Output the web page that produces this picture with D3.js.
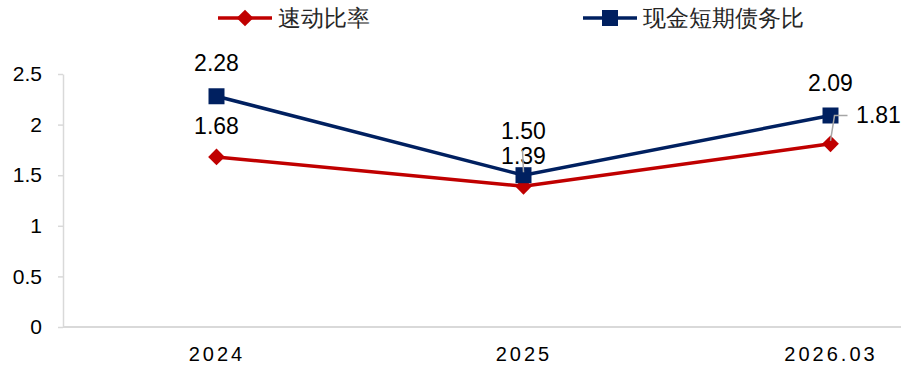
<!DOCTYPE html>
<html>
<head>
<meta charset="utf-8">
<script src="https://d3js.org/d3.v7.min.js"></script>
<style>
  body { margin: 0; background: #fff; }
  text { font-family: "Liberation Sans", Arial, sans-serif; }
</style>
</head>
<body>
<svg id="vis"></svg>
<script>
    let width = 901,
        height = 370;

    // chart data
    let categories = ["2024", "2025", "2026.03"];
    let quickRatio = [1.68, 1.39, 1.81];
    let cashDebtRatio = [2.28, 1.50, 2.09];
    let seriesNames = ["速动比率", "现金短期债务比"];
    let yTicks = [0, 0.5, 1, 1.5, 2, 2.5];

    let svg = d3.select("#vis").attr("width", width).attr("height", height);
    svg.append("rect").attr("width", width).attr("height", height).attr("fill", "white");

    let x = d3.scalePoint().domain(categories).range([63, 984]).padding(0.5);
    let y = d3.scaleLinear().domain([0, 2.5]).range([327, 74]);

    // y axis
    let yAxis = svg.append("g")
        .attr("transform", "translate(63,0)")
        .call(d3.axisLeft(y).tickValues(yTicks).tickSize(5).tickSizeOuter(0).tickFormat(d => d));
    yAxis.select(".domain").attr("stroke", "#d9d9d9").attr("stroke-width", 1.5);
    yAxis.selectAll(".tick line").attr("stroke", "#d9d9d9").attr("stroke-width", 1.5);
    yAxis.selectAll(".tick text")
        .attr("x", -21)
        .attr("fill", "#000")
        .style("font-size", "21px");

    // x axis
    let xAxis = svg.append("g")
        .attr("transform", "translate(0,327)")
        .call(d3.axisBottom(x).tickSize(0).tickSizeOuter(0));
    xAxis.select(".domain").attr("d", "M63,0H901").attr("stroke", "#d9d9d9").attr("stroke-width", 2);
    xAxis.selectAll(".tick text")
        .attr("y", 20)
        .attr("fill", "#000")
        .style("font-size", "20px")
        .style("letter-spacing", "3px");

    let line = d3.line().x((d, i) => x(categories[i])).y(d => y(d));

    let series = [
        { name: seriesNames[0], values: quickRatio, color: "#c00000", size: 140, rotate: 45 },
        { name: seriesNames[1], values: cashDebtRatio, color: "#002060", size: 256, rotate: 0 }
    ];

    series.forEach(s => {
        svg.append("path")
            .attr("d", line(s.values))
            .attr("fill", "none")
            .attr("stroke", s.color)
            .attr("stroke-width", 3.5);
    });

    series.forEach(s => {
        svg.selectAll(null)
            .data(s.values)
            .join("path")
            .attr("d", d3.symbol().type(d3.symbolSquare).size(s.size))
            .attr("transform", (d, i) => `translate(${x(categories[i])},${y(d)}) rotate(${s.rotate})`)
            .attr("fill", s.color);
    });

    // data labels
    let labelOffsets = {
        quick: [[0, -31], [0, -30], [48, -29]],
        cash: [[0, -33], [0, -44], [0, -32]]
    };
    function drawLabels(values, offsets) {
        svg.selectAll(null)
            .data(values)
            .join("text")
            .attr("x", (d, i) => x(categories[i]) + offsets[i][0])
            .attr("y", (d, i) => y(d) + offsets[i][1])
            .attr("text-anchor", "middle")
            .attr("dominant-baseline", "central")
            .attr("fill", "#000")
            .style("font-size", "23px")
            .text(d => d.toFixed(2));
    }
    drawLabels(quickRatio, labelOffsets.quick);
    drawLabels(cashDebtRatio, labelOffsets.cash);

    // leader lines
    let leaderColor = "#a6a6a6";
    svg.append("path")
        .attr("d", `M${x(categories[1])},${y(cashDebtRatio[1]) - 3}L${x(categories[1]) - 1},${y(quickRatio[1]) - 36}`)
        .attr("stroke", leaderColor).attr("stroke-width", 1.5).attr("fill", "none");
    svg.append("path")
        .attr("d", `M${x(categories[2])},${y(quickRatio[2]) - 3}L${x(categories[2]) + 4},${y(cashDebtRatio[2])}H${x(categories[2]) + 17}`)
        .attr("stroke", leaderColor).attr("stroke-width", 1.5).attr("fill", "none");

    // legend
    let legendX = [218, 583];
    series.forEach((s, i) => {
        let g = svg.append("g").attr("transform", `translate(${legendX[i]},18)`);
        g.append("line").attr("x1", 0).attr("x2", 54).attr("stroke", s.color).attr("stroke-width", 3.5);
        g.append("path")
            .attr("d", d3.symbol().type(d3.symbolSquare).size(s.size))
            .attr("transform", `translate(27,0) rotate(${s.rotate})`)
            .attr("fill", s.color);
        g.append("text")
            .attr("x", 60)
            .attr("dominant-baseline", "central")
            .attr("fill", "#262626")
            .style("font-size", "23px")
            .text(s.name);
    });
</script>
</body>
</html>
